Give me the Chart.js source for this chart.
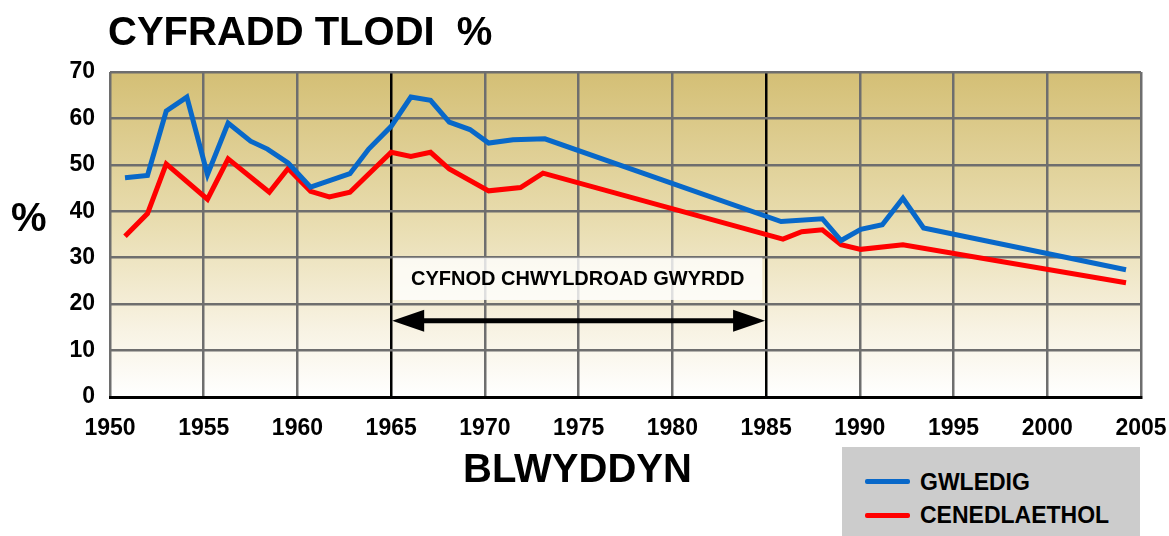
<!DOCTYPE html>
<html>
<head>
<meta charset="utf-8">
<script src="https://cdn.jsdelivr.net/npm/chart.js@4.4.0/dist/chart.umd.min.js"></script>
<style>
  body { margin: 0; background: #fff; }
  #wrap { position: relative; width: 1169px; height: 536px; overflow: hidden;
          font-family: "Liberation Sans", Arial, sans-serif; font-weight: bold; color: #000; }
  #chart { position: absolute; left: 0; top: 0; }
  .txt { position: absolute; white-space: pre; line-height: 1; }
  #legend { position: absolute; left: 842px; top: 447px; width: 298px; height: 89px; background: #cccccc; }
  .swatch { position: absolute; left: 23px; width: 45px; height: 5px; border-radius: 2px; }
</style>
</head>
<body>
<div id="wrap">
  <canvas id="chart" width="1169" height="536"></canvas>
  <div class="txt" style="left:108px; top:11px; font-size:40px;">CYFRADD TLODI  %</div>
  <div class="txt" style="left:11px; top:197px; font-size:40px;">%</div>
  <div class="txt" style="left:463px; top:448px; font-size:40px;">BLWYDDYN</div>
  <div id="legend">
    <div class="swatch" style="top:32px; background:#0868c9;"></div>
    <div class="txt" style="left:78px; top:24px; font-size:23px;">GWLEDIG</div>
    <div class="swatch" style="top:66px; background:#ff0000;"></div>
    <div class="txt" style="left:78px; top:57px; font-size:23px;">CENEDLAETHOL</div>
  </div>
</div>
<script>
// values
const gwledigYears = [1950.8, 1952.0, 1953.0, 1954.1, 1955.2, 1956.3, 1957.5, 1958.4, 1959.5, 1960.7,
  1962.8, 1963.8, 1965.0, 1966.05, 1967.1, 1968.1, 1969.2, 1970.2, 1971.5, 1973.2,
  1985.8, 1988.0, 1989.0, 1990.05, 1991.2, 1992.3, 1993.4, 2004.2];
const gwledig = [47.2, 47.7, 61.6, 64.6, 47.9, 59.0, 55.1, 53.4, 50.4, 45.2,
  48.1, 53.4, 58.3, 64.6, 63.9, 59.2, 57.6, 54.7, 55.4, 55.6,
  37.8, 38.4, 33.7, 36.1, 37.1, 42.8, 36.4, 27.4];

const cenedYears = [1950.8, 1952.0, 1953.0, 1955.2, 1956.3, 1958.5, 1959.5, 1960.7, 1961.7, 1962.8,
  1965.0, 1966.05, 1967.1, 1968.1, 1970.2, 1971.9, 1973.1, 1985.9, 1986.9, 1988.0,
  1989.0, 1990.05, 1992.3, 2004.2];
const cenedlaethol = [34.6, 39.5, 50.2, 42.6, 51.3, 44.1, 49.2, 44.3, 43.1, 44.1,
  52.7, 51.8, 52.7, 49.1, 44.4, 45.1, 48.2, 34.0, 35.6, 36.0,
  32.8, 31.8, 32.8, 24.6];

const periodStart = 1965;
const periodEnd = 1985;
const periodLabel = 'CYFNOD CHWYLDROAD GWYRDD';

const toPoints = (xs, ys) => xs.map((x, i) => ({ x: x, y: ys[i] }));

// gold-to-white background behind the grid
const backdrop = {
  id: 'backdrop',
  beforeDraw(chart) {
    const { ctx, chartArea: a } = chart;
    const g = ctx.createLinearGradient(0, a.top, 0, a.bottom);
    g.addColorStop(0, '#d4bf75');
    g.addColorStop(0.45, '#e8dcae');
    g.addColorStop(0.8, '#f8f3e4');
    g.addColorStop(1, '#ffffff');
    ctx.save();
    ctx.fillStyle = g;
    ctx.fillRect(a.left, a.top, a.right - a.left, a.bottom - a.top);
    ctx.restore();
  }
};

// the label box and the double arrow for the green revolution period
const period = {
  id: 'period',
  afterDatasetsDraw(chart) {
    const { ctx, scales: { x, y } } = chart;
    const x0 = x.getPixelForValue(periodStart);
    const x1 = x.getPixelForValue(periodEnd);
    ctx.save();

    const bl = x.getPixelForValue(1965.1), br = x.getPixelForValue(1984.8);
    const bt = y.getPixelForValue(30), bb = y.getPixelForValue(20.9);
    ctx.fillStyle = 'rgba(255,255,255,0.78)';
    ctx.fillRect(bl, bt, br - bl, bb - bt);
    ctx.fillStyle = '#000';
    ctx.font = 'bold 20px "Liberation Sans", Arial, sans-serif';
    ctx.textAlign = 'center';
    ctx.textBaseline = 'middle';
    ctx.fillText(periodLabel, (bl + br) / 2, (bt + bb) / 2 + 1);

    const ay = y.getPixelForValue(16.4);
    ctx.strokeStyle = '#000';
    ctx.lineWidth = 5;
    ctx.beginPath();
    ctx.moveTo(x0 + 20, ay);
    ctx.lineTo(x1 - 20, ay);
    ctx.stroke();
    ctx.beginPath();
    ctx.moveTo(x0 + 1, ay);
    ctx.lineTo(x0 + 33, ay - 11);
    ctx.lineTo(x0 + 33, ay + 11);
    ctx.closePath();
    ctx.moveTo(x1 - 1, ay);
    ctx.lineTo(x1 - 33, ay - 11);
    ctx.lineTo(x1 - 33, ay + 11);
    ctx.closePath();
    ctx.fill();
    ctx.restore();
  }
};

const tickFont = { family: '"Liberation Sans", Arial, sans-serif', size: 23, weight: 'bold' };

new Chart(document.getElementById('chart'), {
  type: 'line',
  data: {
    datasets: [
      {
        label: 'GWLEDIG',
        data: toPoints(gwledigYears, gwledig),
        borderColor: '#0868c9',
        borderWidth: 5,
        pointRadius: 0,
        tension: 0
      },
      {
        label: 'CENEDLAETHOL',
        data: toPoints(cenedYears, cenedlaethol),
        borderColor: '#ff0000',
        borderWidth: 5,
        pointRadius: 0,
        tension: 0
      }
    ]
  },
  options: {
    responsive: false,
    animation: false,
    layout: { padding: { left: 70, top: 72, right: 28, bottom: 99 } },
    plugins: { legend: { display: false }, tooltip: { enabled: false } },
    scales: {
      x: {
        type: 'linear',
        min: 1950,
        max: 2005,
        afterFit(scale) {
          scale.height = 40;
          scale.paddingLeft = 0;
          scale.paddingRight = 0;
        },
        ticks: {
          stepSize: 5,
          autoSkip: false,
          maxRotation: 0,
          padding: 18,
          color: '#000',
          font: tickFont,
          callback: v => String(v)
        },
        grid: {
          drawTicks: false,
          color: c => (c.tick && (c.tick.value === periodStart || c.tick.value === periodEnd)) ? '#000' : '#6e6e6e',
          lineWidth: c => (c.tick && (c.tick.value === periodStart || c.tick.value === periodEnd)) ? 2.5 : 2.5
        },
        border: { display: true, color: '#000', width: 3 }
      },
      y: {
        min: 0,
        max: 70,
        afterFit(scale) { scale.width = 40; },
        ticks: { stepSize: 10, padding: 15, color: '#000', font: tickFont },
        grid: {
          drawTicks: false,
          color: c => (c.tick && c.tick.value === 0) ? '#000' : '#6e6e6e',
          lineWidth: c => (c.tick && c.tick.value === 0) ? 3 : 2.5
        },
        border: { display: false }
      }
    }
  },
  plugins: [backdrop, period]
});
</script>
</body>
</html>
